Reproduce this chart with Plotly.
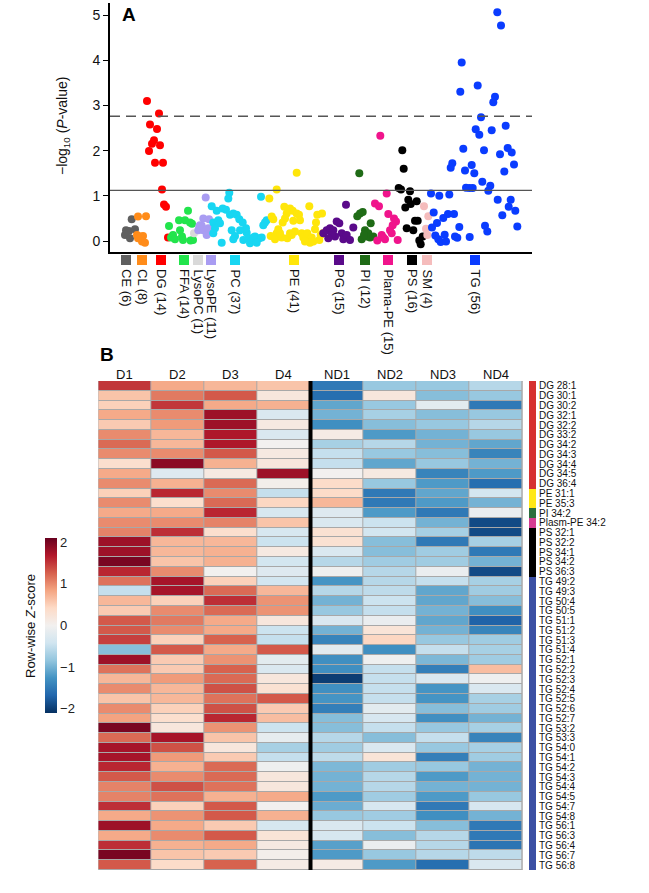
import plotly.graph_objects as go

W, H = 649, 893
FONT = "Liberation Sans, Arial, sans-serif"


def px(p):
    return min(1.0, max(0.0, p / W))


def py(p):
    return min(1.0, max(0.0, 1 - p / H))


# ---------------- Panel A data ----------------
categories = ["CE (6)", "CL (8)", "DG (14)", "FFA (14)", "LysoPC (1)", "LysoPE (11)", "PC (37)",
              "PE (41)", "PG (15)", "PI (12)", "Plama-PE (15)", "PS (16)", "SM (4)", "TG (56)"]
category_colors = ["#5f5f5f", "#ff8c1a", "#ff0000", "#22e44c", "#d9d9d9", "#a99cf2", "#18d6f2",
                   "#ffe60a", "#5a0a8a", "#1f6b16", "#f0148c", "#000000", "#f5bcbc", "#0a3cff"]
category_pos = [16, 32, 51, 74, 88, 101, 125, 184, 229, 255, 278, 302, 317, 365]

ce_x = [16, 19, 21.7, 25, 15, 20]
ce_y = [0.24, 0.22, 0.48, 0.26, 0.13, 0.06]
cl_x = [28, 36, 27, 30, 33, 32, 35, 28]
cl_y = [0.54, 0.55, 0.13, 0.10, 0.11, -0.01, -0.04, 0.06]
dg_x = [37, 49, 40, 47, 44, 42, 50, 39, 45, 53, 52, 54, 56, 58]
dg_y = [3.10, 2.82, 2.58, 2.48, 2.23, 2.15, 2.12, 1.99, 1.73, 1.73, 1.14, 0.81, 0.76, 0.08]
ffa_x = [59, 61, 63, 65, 69, 70, 72, 73, 75, 78, 80, 82, 80.5, 83]
ffa_y = [0.33, 0.08, 0.13, 0.04, 0.46, 0.24, 0.10, 0.02, 0.46, 0.67, 0.41, 0.38, 0.01, 0.02]
lysopc_x = [84]
lysopc_y = [0.17]
lysope_x = [95.7, 93.3, 99, 89.3, 91.7, 88.3, 93.3, 96.7, 100.7, 90, 98.3]
lysope_y = [0.96, 0.50, 0.48, 0.32, 0.34, 0.24, 0.24, 0.13, 0.26, 0.35, 0.28]
pc_x = [119.3, 118.3, 101.7, 106.7, 112.7, 116, 120, 123.3, 126.7, 129.3, 132.7, 103.3, 108.3,
        110, 105, 103.3, 111.7, 121.7, 125, 123.3, 133.3, 136.7, 138.3, 140, 142.7, 145, 146.7,
        149.3, 151.7, 151, 153.3, 155, 156.7, 136, 143.3, 146.7, 130]
pc_y = [1.07, 0.94, 0.77, 0.67, 0.72, 0.69, 0.58, 0.61, 0.58, 0.48, 0.41, 0.41, 0.46,
        0.39, 0.28, 0.17, -0.04, 0.24, 0.11, 0.04, 0.02, 0.18, 0.06, -0.05, 0.02, 0.10, 0.02,
        0.06, 0.08, 0.98, 0.35, 0.41, 0.46, 0.28, 0.08, -0.04, 0.24]
pe_x = [166.7, 159.3, 186.7, 161.7, 163.3, 174.3, 180, 182.7, 176.7, 175, 172.7, 168.3, 166.7,
        160.7, 165, 171.7, 177.3, 180, 185, 186.7, 189, 190, 183.3, 191.7, 193.3, 196, 197.3,
        199.3, 201.7, 203.3, 205, 206, 207.3, 209.3, 210.7, 212.7, 200, 195, 181.7, 170, 212]
pe_y = [1.14, 0.94, 1.51, 0.54, 0.48, 0.76, 0.72, 0.67, 0.61, 0.50, 0.41, 0.26, 0.17,
        0.11, 0.04, 0.08, 0.06, 0.17, 0.21, 0.61, 0.58, 0.46, 0.45, 0.17, 0.08, 0.01, 0.17,
        0.77, 0.08, -0.01, 0.26, 0.41, 0.58, 0.02, 0.13, 0.17, -0.04, -0.01, 0.13, 0.17, 0.61]
pg_x = [236, 213.3, 216.7, 220, 223.3, 226.7, 229.3, 225, 221.7, 218.3, 231.7, 233.3, 236.7, 240, 243.3]
pg_y = [0.80, 0.17, 0.24, 0.28, 0.24, 0.43, 0.39, 0.10, 0.13, 0.06, 0.17, 0.04, 0.13, 0.02, 0.30]
pi_x = [249.3, 247.3, 250, 252.7, 260.7, 251.7, 255, 256.7, 258.3, 260, 263.3, 254]
pi_y = [1.50, 0.55, 0.61, 0.64, 0.39, 0.04, 0.24, 0.10, 0.17, 0.08, 0.10, 0.13]
plpe_x = [270.3, 276.7, 265, 269, 278.3, 284, 286, 282.7, 280, 281.7, 271.7, 275, 267.3, 287.7, 273.3]
plpe_y = [2.33, 1.05, 0.83, 0.77, 0.60, 0.50, 0.43, 0.35, 0.24, 0.17, 0.13, 0.04, 0.01, 0.02, 0.08]
ps_x = [292.3, 293.7, 288.7, 291, 300, 298.3, 306.7, 300.7, 295.3, 305, 307.7, 296.7, 303.3,
        312.7, 309.3, 310.7]
ps_y = [2.01, 1.60, 1.17, 1.14, 1.10, 0.91, 0.88, 0.82, 0.74, 0.45, 0.45, 0.28, 0.24,
        0.10, 0.01, -0.07]
sm_x = [314, 318.3, 316, 317.3]
sm_y = [0.77, 0.55, 0.27, 0.13]
tg_x = [387.3, 391, 351.7, 350.3, 367.7, 385, 383.3, 371, 395.7, 365.7,
        369.3, 381.7, 353.3, 374, 397.7, 401.7, 390, 342.3, 340.7, 361.7,
        355, 364.3, 404, 394.3, 372.3, 380.3, 378.3, 356, 359.3, 362.7,
        321, 329.3, 339.3, 387.7, 400.7, 398.7, 405.3, 392.3, 323.7, 338,
        344, 333.3, 327, 322, 349.3, 375, 377.3, 407.3, 325.3, 328.3,
        330.7, 336, 334.7, 345, 347.3, 359.7]
tg_y = [5.06, 4.77, 3.95, 3.30, 3.44, 3.19, 3.07, 2.74, 2.55, 2.47,
        2.35, 2.45, 2.04, 2.01, 2.06, 1.96, 1.92, 1.72, 1.62, 1.68,
        1.56, 1.50, 1.69, 1.54, 1.31, 1.22, 1.11, 1.18, 1.17, 1.17,
        1.05, 1.00, 1.03, 0.91, 0.91, 0.76, 0.67, 0.57, 0.63, 0.60,
        0.60, 0.51, 0.40, 0.30, 0.31, 0.34, 0.21, 0.32, 0.12, 0.04,
        -0.02, -0.01, 0.14, 0.10, 0.07, 0.09]

series_x = [ce_x, cl_x, dg_x, ffa_x, lysopc_x, lysope_x, pc_x, pe_x, pg_x, pi_x, plpe_x, ps_x, sm_x, tg_x]
series_y = [ce_y, cl_y, dg_y, ffa_y, lysopc_y, lysope_y, pc_y, pe_y, pg_y, pi_y, plpe_y, ps_y, sm_y, tg_y]

threshold_dashed = 2.76
threshold_solid = 1.12

# ---------------- Panel B data ----------------
samples = ["D1", "D2", "D3", "D4", "ND1", "ND2", "ND3", "ND4"]
lipids = ["DG 28:1", "DG 30:1", "DG 30:2", "DG 32:1", "DG 32:2", "DG 33:2", "DG 34:2", "DG 34:3",
          "DG 34:4", "DG 34:5", "DG 36:4", "PE 31:1", "PE 35:3", "PI 34:2", "Plasm-PE 34:2",
          "PS 32:1", "PS 32:2", "PS 34:1", "PS 34:2", "PS 36:3",
          "TG 49:2", "TG 49:3", "TG 50:4", "TG 50:5", "TG 51:1", "TG 51:2", "TG 51:3", "TG 51:4",
          "TG 52:1", "TG 52:2", "TG 52:3", "TG 52:4", "TG 52:5", "TG 52:6", "TG 52:7", "TG 53:2",
          "TG 53:3", "TG 54:0", "TG 54:1", "TG 54:2", "TG 54:3", "TG 54:4", "TG 54:5", "TG 54:7",
          "TG 54:8", "TG 56:1", "TG 56:3", "TG 56:4", "TG 56:7", "TG 56:8"]
lipid_groups = ["DG"] * 11 + ["PE"] * 2 + ["PI"] + ["Plasm-PE"] + ["PS"] * 5 + ["TG"] * 30
group_names = ["DG", "PE", "PI", "Plasm-PE", "PS", "TG"]
group_colors = ["#d63030", "#ffe817", "#2d6e3e", "#d53c93", "#000000", "#3b4fa3"]

D1 = [1.5, 0.6, 0.5, 0.8, 0.55, 1.0, 1.2, 1.0, 0.35, 0.8, 1.0, 0.5, 1.0, 0.8, 1.0, 1.05, 1.8, 1.8, 2.0, 1.6,
      1.15, -0.5, 0.7, 0.55, 1.3, 1.3, 1.45, -0.9, 1.8, 1.15, 0.7, 1.0, 0.6, 1.0, 0.85, 2.0, 1.2, 1.75,
      1.75, 1.6, 1.3, 1.05, 1.05, 1.55, 0.8, 1.8, 0.8, 1.55, 2.0, 1.3]
D2 = [0.8, 1.1, 1.5, 1.0, 0.9, 0.7, 0.7, 1.0, 1.9, -0.25, 0.75, 1.6, 0.35, 0.8, 1.0, 1.55, 0.7, 0.7, 0.6, 1.0,
      1.75, 1.75, 0.5, 1.0, 1.1, 1.0, 0.5, 1.3, 0.55, 0.55, 0.9, 0.7, 0.7, 0.5, 0.35, 0.2, 1.75, 1.35,
      0.9, 0.75, 1.0, 1.35, 1.15, 0.5, 0.95, 0.8, 1.0, 0.75, 0.6, 0.4]
D3 = [0.7, 1.3, 0.8, 1.8, 1.8, 1.7, 1.7, 1.3, 0.75, 0.15, 1.2, 1.0, 1.2, 1.6, 1.05, 0.35, 0.7, 0.75, 0.75, 0.0,
      0.5, 1.2, 1.55, 1.2, 0.8, 0.8, 1.25, 0.8, 0.95, 1.25, 1.2, 1.35, 1.15, 1.35, 1.6, 0.95, 0.6, 0.2,
      0.55, 1.2, 1.2, 1.15, 0.75, 1.3, 1.3, 0.55, 1.3, 0.8, 0.55, 1.25]
D4 = [0.6, 0.2, 0.75, -0.3, 0.15, -0.3, 0.0, 0.15, 0.2, 1.8, 0.05, -0.5, 0.45, -0.35, 0.6, -0.35, -0.45, 0.15,
      -0.4, -0.25, -0.4, 0.7, 0.95, 0.95, 0.2, -0.45, -0.5, 1.3, -0.2, -0.3, 0.2, 0.3, 1.3, 0.55, 0.65,
      -0.45, -0.15, -0.7, -0.5, -0.05, 0.2, 0.2, 0.8, 0.0, 0.75, -0.35, 0.25, 0.15, 0.05, 0.1]
ND1 = [-1.5, -1.6, -1.1, -1.0, -1.3, 0.1, -0.7, -0.5, -0.5, 0.0, 0.4, 0.4, 0.7, -0.25, -0.3, 0.3, 0.3, -0.3,
       -0.6, -0.05, -1.25, -0.6, -1.0, -0.8, -0.3, -1.0, -1.4, -0.2, -1.3, -1.3, -2.0, -1.3, -1.25, -1.45,
       -0.9, -0.9, -0.6, -0.75, -0.55, -0.95, -1.0, -1.0, -1.2, -1.05, -0.8, -0.3, -0.35, -1.15, -1.2, 0.1]
ND2 = [-0.8, 0.2, -0.8, -0.7, -0.9, -1.2, -0.6, -0.8, -1.1, 0.15, -0.8, -1.5, -1.5, -1.2, -0.45, -0.4, -0.9,
       -0.9, -0.75, -0.6, -0.6, -0.55, -0.45, -0.5, -0.1, 0.25, 0.45, -1.3, -0.05, -0.5, -0.5, -0.5, -0.5,
       -0.2, -0.35, -0.5, -0.9, -0.3, 0.25, -0.75, -0.6, -0.6, -0.75, -0.35, -0.75, -0.45, -0.9, -0.1,
       -0.8, -1.2]
ND3 = [-0.8, -0.9, -0.2, -0.9, -0.8, -1.0, -1.0, -0.9, -0.8, -1.4, -1.2, -1.1, -1.2, -1.5, -1.0, -0.7, -1.5,
       -0.75, -0.75, -0.1, -0.5, -1.1, -1.1, -1.0, -1.1, -1.0, -0.8, -0.5, -0.95, -1.45, -0.3, -1.25, -1.25,
       -0.9, -1.3, -0.8, -0.5, -0.8, -1.45, -0.8, -1.2, -1.0, -1.2, -1.5, -1.3, -0.9, -0.6, -0.6, -0.6, -1.6]
ND4 = [-0.6, -0.8, -1.5, -0.8, -0.6, -0.8, -1.1, -1.4, -1.0, -1.2, -1.6, -0.4, -1.0, -0.1, -1.9, -1.9, -0.7,
       -1.5, -1.0, -1.9, -0.7, -0.75, -0.9, -1.3, -1.7, -1.4, -0.75, -0.7, -0.75, 0.65, -0.05, -0.3, -0.7,
       -0.75, -1.0, -0.7, -1.4, -0.7, -0.75, -1.0, -1.0, -1.0, -0.8, -0.35, -1.0, -1.5, -1.5, -1.55, -0.55, -0.3]
columns = [D1, D2, D3, D4, ND1, ND2, ND3, ND4]
zscore_ticks = [-2, -1, 0, 1, 2]

rdbu = [[0.0, "#053061"], [0.1, "#2166ac"], [0.2, "#4393c3"], [0.3, "#92c5de"], [0.4, "#d1e5f0"],
        [0.5, "#f2f0ef"], [0.6, "#fddbc7"], [0.7, "#f4a582"], [0.8, "#d6604d"], [0.9, "#b2182b"],
        [1.0, "#67001f"]]

fig = go.Figure()

# ---- Panel A scatter ----
for name, xs, ys, col in zip(categories, series_x, series_y, category_colors):
    fig.add_trace(go.Scatter(x=xs, y=ys, mode="markers", name=name,
                             marker=dict(color=col, size=8, line=dict(width=0)),
                             xaxis="x", yaxis="y", showlegend=False, cliponaxis=False))

# category squares below the axis (own thin y axis sharing x)
fig.add_trace(go.Scatter(x=category_pos, y=[0.5] * len(category_pos), mode="markers",
                         marker=dict(symbol="square", size=10, color=category_colors, line=dict(width=0)),
                         xaxis="x", yaxis="y3", showlegend=False, cliponaxis=False, hoverinfo="skip"))

# ---- Panel B heatmap ----
nrow = len(lipids)
z = [[col[i] for col in columns] for i in range(nrow)]
fig.add_trace(go.Heatmap(z=z, x=list(range(len(samples))), y=list(range(nrow)),
                         colorscale=rdbu, zmin=-2.1, zmax=2.1, xgap=1, ygap=1,
                         xaxis="x2", yaxis="y2",
                         colorbar=dict(x=px(45), xanchor="left", y=py(625.5), yanchor="middle",
                                       len=175, lenmode="pixels", thickness=12, thicknessmode="pixels",
                                       xpad=0, ypad=0, outlinewidth=0, ticks="",
                                       tickvals=zscore_ticks, ticktext=["\u22122", "\u22121", "0", "1", "2"],
                                       tickfont=dict(size=13, family=FONT, color="#222"))))

gidx = [group_names.index(g) for g in lipid_groups]
ng = len(group_names)
gscale = []
for i, c in enumerate(group_colors):
    gscale.append([i / ng, c])
    gscale.append([(i + 1) / ng, c])
fig.add_trace(go.Heatmap(z=[[g] for g in gidx], x=[0], y=list(range(nrow)), colorscale=gscale,
                         zmin=-0.5, zmax=ng - 0.5, showscale=False, xaxis="x3", yaxis="y2",
                         hoverinfo="skip"))

shapes = [
    dict(type="line", xref="x", yref="y", x0=0, x1=422, y0=threshold_dashed, y1=threshold_dashed,
         line=dict(color="#555555", width=1.3, dash="10px,6px")),
    dict(type="line", xref="x", yref="y", x0=0, x1=422, y0=threshold_solid, y1=threshold_solid,
         line=dict(color="#555555", width=1.3)),
    dict(type="rect", xref="x2", yref="y2", x0=-0.5, x1=len(samples) - 0.5, y0=-0.5, y1=nrow - 0.5,
         fillcolor="#a8a8a8", line=dict(width=1, color="#a8a8a8"), layer="below"),
    dict(type="line", xref="x2", yref="y2", x0=3.5, x1=3.5, y0=-0.5, y1=nrow - 0.5,
         line=dict(color="black", width=4)),
]

annotations = []
for name, pos in zip(categories, category_pos):
    annotations.append(dict(text=name, x=pos, xref="x", y=py(267), yref="paper", xanchor="center",
                            yanchor="top", textangle=90, showarrow=False,
                            font=dict(size=13, family=FONT, color="#111")))
for i, s in enumerate(samples):
    annotations.append(dict(text=s, x=i, xref="x2", y=py(374), yref="paper", xanchor="center",
                            yanchor="middle", showarrow=False, font=dict(size=13, family=FONT, color="#111")))
for i, lab in enumerate(lipids):
    annotations.append(dict(text=lab, x=px(537), xref="paper", y=i, yref="y2", xanchor="left",
                            yanchor="middle", showarrow=False, font=dict(size=10, family=FONT, color="#111")))
annotations += [
    dict(text="<b>A</b>", x=px(129), y=py(15), xref="paper", yref="paper", xanchor="center",
         yanchor="middle", showarrow=False, font=dict(size=19, family=FONT, color="black")),
    dict(text="<b>B</b>", x=px(107), y=py(354), xref="paper", yref="paper", xanchor="center",
         yanchor="middle", showarrow=False, font=dict(size=19, family=FONT, color="black")),
    dict(text="\u2212log<sub>10</sub> (<i>P</i>-value)", x=px(63), y=py(126), xref="paper", yref="paper",
         xanchor="center", yanchor="middle", textangle=-90, showarrow=False,
         font=dict(size=14, family=FONT, color="#111")),
    dict(text="Row-wise <i>Z</i>-score", x=px(30), y=py(626), xref="paper", yref="paper",
         xanchor="center", yanchor="middle", textangle=-90, showarrow=False,
         font=dict(size=13, family=FONT, color="#111")),
]

# y scale: value 0 at pixel 241, 45.2 px per unit, axis from pixel 3 to 252
fig.update_layout(
    width=W, height=H, margin=dict(l=0, r=0, t=0, b=0),
    paper_bgcolor="white", plot_bgcolor="white",
    font=dict(family=FONT, color="#111"),
    xaxis=dict(domain=[px(110), px(532)], range=[0, 422], anchor="y", showline=True, linecolor="black",
               linewidth=1.6, showticklabels=False, ticks="", showgrid=False, zeroline=False),
    yaxis=dict(domain=[py(252), py(3)], range=[(241 - 252) / 45.2, (241 - 3) / 45.2], anchor="x",
               showline=True, linecolor="black", linewidth=1.6, tickvals=[0, 1, 2, 3, 4, 5],
               ticks="outside", ticklen=5, tickwidth=1.2, tickcolor="black", showgrid=False,
               zeroline=False, tickfont=dict(size=14, family=FONT, color="#111")),
    yaxis3=dict(domain=[py(266), py(254)], range=[0, 1], anchor="x", visible=False),
    xaxis2=dict(domain=[px(98.3), px(522.7)], range=[-0.5, 7.5], anchor="y2", visible=False),
    yaxis2=dict(domain=[py(870), py(381)], range=[nrow - 0.5, -0.5], anchor="x2", visible=False),
    xaxis3=dict(domain=[px(529), px(536)], range=[-0.5, 0.5], anchor="y2", visible=False),
    shapes=shapes, annotations=annotations,
)

# remove the default 8px page margin so the figure fills the window exactly
fig.write_html("out.html", config={"displayModeBar": False},
               post_script="document.body.style.margin='0px';")
